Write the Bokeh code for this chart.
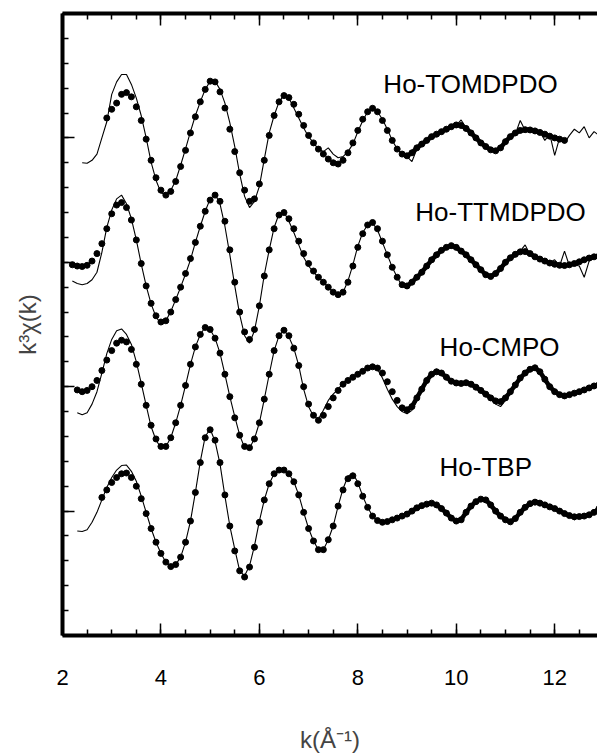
import numpy as np
from bokeh.plotting import figure
from bokeh.models import (Range1d, LinearAxis, SingleIntervalTicker,
                          ColumnDataSource, CustomJSTickFormatter)
from bokeh.core.properties import value
from bokeh.embed import file_html
from bokeh.resources import INLINE

# ---------------- data ----------------
names = ["Ho-TOMDPDO", "Ho-TTMDPDO", "Ho-CMPO", "Ho-TBP"]
offsets = [20, 15, 10, 5]          # vertical offset of each spectrum
step = 0.1
k0_exp = [2.4, 2.2, 2.3, 2.3]       # first k of each experimental trace
k0_fit = [2.9, 2.2, 2.3, 2.8]       # first k of each fit trace
k_dense = 8.9                       # above this k the fit points merge into a band

exp1 = [-1.0, -1.02, -0.9, -0.65, 0.0, 0.65,
        1.75, 2.25, 2.55, 2.55, 2.15, 1.6, 0.89, 0.0, -0.97, -1.7,
        -2.2, -2.3, -2.1, -1.72, -1.1, -0.44, 0.25, 0.9, 1.45, 1.95,
        2.28, 2.28, 1.95, 1.4, 0.6, -0.35, -1.45, -2.35, -2.8, -2.55,
        -1.95, -0.85, 0.2, 0.9, 1.45, 1.72, 1.6, 1.2, 0.8, 0.4,
        0.05, -0.2, -0.45, -0.55, -0.4, -0.65, -0.8, -0.75, -0.55, -0.25,
        0.25, 0.69, 1.05, 1.19, 1.05, 0.75, 0.35, -0.1, -0.45, -0.65,
        -0.75, -0.95, -0.45, -0.3, -0.1, 0.05, 0.2, 0.3, 0.35, 0.4,
        0.5, 0.72, 0.4, 0.25, 0.05, -0.2, -0.35, -0.45, -0.55, -0.35,
        -0.2, 0.0, 0.15, 0.7, 0.3, 0.35, 0.2, 0.25, -0.1, 0.15,
        -0.7, 0.0, -0.2, 0.1, 0.35, 0.2, 0.45, 0.0, 0.25, 0.1]
fit1 = [0.8,
        1.15, 1.4, 1.75, 1.82, 1.65, 1.25, 0.7, -0.05, -0.9, -1.6,
        -2.1, -2.3, -2.15, -1.75, -1.15, -0.5, 0.2, 0.85, 1.45, 1.95,
        2.28, 2.25, 1.85, 1.2, 0.35, -0.55, -1.4, -2.1, -2.55, -2.45,
        -1.85, -0.9, 0.1, 0.9, 1.45, 1.7, 1.62, 1.35, 0.95, 0.5,
        0.1, -0.2, -0.45, -0.65, -0.85, -1.0, -1.05, -0.9, -0.6, -0.2,
        0.3, 0.75, 1.05, 1.19, 1.05, 0.7, 0.3, -0.1, -0.45, -0.65,
        -0.72, -0.6, -0.4, -0.25, -0.1, 0.05, 0.15, 0.25, 0.35, 0.45,
        0.52, 0.5, 0.38, 0.2, 0.0, -0.2, -0.35, -0.48, -0.52, -0.4,
        -0.15, 0.05, 0.2, 0.3, 0.33, 0.32, 0.28, 0.22, 0.15, 0.07,
        0.0, -0.05, -0.1]

exp2 = [-0.75, -0.85, -0.9, -0.85, -0.7, -0.4, 0.4, 1.4,
        2.1, 2.55, 2.7, 2.35, 1.75, 0.9, -0.07, -0.95, -1.67, -2.2,
        -2.47, -2.35, -1.98, -1.5, -1.0, -0.47, 0.1, 0.8, 1.45, 2.05,
        2.55, 2.74, 2.35, 1.45, 0.3, -0.95, -2.1, -2.95, -3.25, -2.75,
        -1.75, -0.5, 0.5, 1.4, 1.95, 2.02, 1.65, 1.2, 0.7, 0.2,
        -0.15, -0.4, -0.6, -0.8, -1.0, -1.2, -1.33, -1.2, -0.75, -0.1,
        0.65, 1.2, 1.5, 1.58, 1.3, 0.8, 0.3, -0.2, -0.6, -0.95,
        -1.05, -0.8, -0.65, -0.4, -0.15, 0.1, 0.3, 0.5, 0.6, 0.72,
        0.6, 0.45, 0.3, 0.1, -0.1, -0.3, -0.5, -0.57, -0.45, -0.25,
        0.0, 0.15, 0.3, 0.45, 0.7, 0.3, 0.2, 0.13, 0.05, 0.0,
        0.1, -0.15, 0.45, -0.15, -0.1, -0.15, -0.6, 0.05, 0.15, 0.25]
fit2 = [-0.1, -0.15, -0.17, -0.12, 0.05, 0.35, 0.75, 1.35,
        1.95, 2.3, 2.4, 2.2, 1.7, 0.9, -0.05, -0.95, -1.65, -2.15,
        -2.4, -2.35, -2.0, -1.5, -1.0, -0.45, 0.15, 0.8, 1.45, 2.05,
        2.5, 2.7, 2.45, 1.65, 0.5, -0.8, -2.0, -2.8, -3.1, -2.7,
        -1.75, -0.55, 0.5, 1.35, 1.9, 2.0, 1.75, 1.35, 0.85, 0.35,
        -0.05, -0.35, -0.6, -0.8, -1.0, -1.2, -1.3, -1.2, -0.8, -0.15,
        0.6, 1.15, 1.5, 1.6, 1.35, 0.85, 0.3, -0.2, -0.6, -0.9,
        -0.95, -0.8, -0.6, -0.4, -0.15, 0.1, 0.3, 0.48, 0.6, 0.67,
        0.6, 0.45, 0.3, 0.1, -0.1, -0.3, -0.5, -0.57, -0.45, -0.25,
        0.0, 0.18, 0.32, 0.42, 0.43, 0.35, 0.22, 0.13, 0.05, -0.03,
        -0.08, -0.12, -0.13, -0.1, -0.05, 0.02, 0.1, 0.17, 0.22, 0.25]

exp3 = [-1.05, -1.13, -1.05, -0.7, -0.2, 0.55, 1.33,
        1.9, 2.25, 2.32, 2.1, 1.7, 1.0, 0.13, -0.75, -1.6, -2.15,
        -2.45, -2.4, -2.05, -1.45, -0.75, 0.05, 0.9, 1.6, 2.1, 2.4,
        2.3, 1.95, 1.35, 0.5, -0.4, -1.2, -1.95, -2.45, -2.45, -2.1,
        -1.45, -0.5, 0.5, 1.45, 2.05, 2.27, 2.0, 1.55, 0.85, -0.1,
        -0.8, -1.2, -1.3, -0.95, -0.55, -0.3, -0.1, 0.15, 0.3, 0.4,
        0.5, 0.6, 0.72, 0.78, 0.7, 0.35, -0.1, -0.5, -0.8, -1.0,
        -1.09, -0.95, -0.55, -0.15, 0.25, 0.55, 0.7, 0.62, 0.4, 0.22,
        0.15, 0.12, 0.2, 0.1, -0.05, -0.2, -0.35, -0.5, -0.7, -0.8,
        -0.55, -0.25, 0.05, 0.35, 0.55, 0.72, 0.76, 0.6, 0.3, 0.0,
        -0.2, -0.33, -0.37, -0.3, -0.25, -0.2, -0.1, -0.05, 0.05, 0.1]
fit3 = [-0.13, -0.2, -0.15, 0.0, 0.25, 0.65, 1.07,
        1.45, 1.75, 1.87, 1.8, 1.5, 0.9, 0.1, -0.75, -1.55, -2.1,
        -2.4, -2.4, -2.05, -1.45, -0.75, 0.05, 0.9, 1.6, 2.1, 2.38,
        2.3, 1.95, 1.35, 0.5, -0.4, -1.25, -1.95, -2.4, -2.45, -2.1,
        -1.45, -0.5, 0.5, 1.45, 2.05, 2.27, 2.05, 1.55, 0.85, 0.0,
        -0.7, -1.15, -1.35, -1.15, -0.8, -0.45, -0.15, 0.1, 0.25, 0.38,
        0.5, 0.62, 0.75, 0.8, 0.75, 0.55, 0.2, -0.2, -0.55, -0.85,
        -0.93, -0.8, -0.45, -0.1, 0.25, 0.5, 0.6, 0.55, 0.38, 0.22,
        0.15, 0.13, 0.16, 0.1, -0.02, -0.15, -0.3, -0.45, -0.57, -0.6,
        -0.45, -0.2, 0.07, 0.35, 0.55, 0.7, 0.76, 0.6, 0.3, 0.0,
        -0.2, -0.32, -0.37, -0.32, -0.26, -0.2, -0.13, -0.05, 0.03, 0.08]

exp4 = [-0.8, -0.82, -0.75, -0.45, -0.05, 0.45, 0.95,
        1.35, 1.65, 1.83, 1.85, 1.6, 1.2, 0.6, -0.05, -0.7, -1.25,
        -1.7, -2.05, -2.23, -2.15, -1.85, -1.25, -0.4, 0.75, 2.0, 3.0,
        3.3, 2.8, 1.9, 0.6, -0.6, -1.53, -2.4, -2.6, -2.2, -1.4,
        -0.4, 0.45, 1.1, 1.5, 1.65, 1.65, 1.5, 1.18, 0.65, -0.05,
        -0.7, -1.2, -1.55, -1.55, -1.15, -0.6, 0.2, 0.9, 1.4, 1.52,
        1.15, 0.6, 0.15, -0.2, -0.38, -0.45, -0.42, -0.35, -0.28, -0.2,
        -0.12, 0.0, 0.13, 0.22, 0.28, 0.33, 0.25, 0.1, -0.1, -0.3,
        -0.4, -0.35, -0.05, 0.2, 0.38, 0.48, 0.45, 0.25, 0.0, -0.2,
        -0.35, -0.44, -0.3, -0.05, 0.15, 0.3, 0.45, 0.4, 0.28, 0.18,
        0.1, 0.0, -0.1, -0.2, -0.35, -0.2, -0.2, -0.18, 0.0, 0.1]
fit4 = [0.55, 0.85,
        1.15, 1.35, 1.5, 1.53, 1.35, 1.0, 0.5, -0.1, -0.7, -1.25,
        -1.7, -2.05, -2.23, -2.15, -1.85, -1.25, -0.4, 0.75, 1.95, 2.95,
        3.27, 2.85, 1.95, 0.65, -0.6, -1.6, -2.4, -2.65, -2.25, -1.45,
        -0.45, 0.45, 1.1, 1.5, 1.65, 1.65, 1.5, 1.18, 0.65, -0.05,
        -0.7, -1.2, -1.55, -1.55, -1.15, -0.6, 0.2, 0.85, 1.3, 1.42,
        1.1, 0.6, 0.15, -0.2, -0.38, -0.45, -0.42, -0.35, -0.28, -0.2,
        -0.12, 0.0, 0.13, 0.22, 0.28, 0.32, 0.25, 0.1, -0.08, -0.28,
        -0.4, -0.35, -0.05, 0.2, 0.38, 0.48, 0.45, 0.25, 0.0, -0.2,
        -0.35, -0.43, -0.3, -0.05, 0.15, 0.3, 0.36, 0.32, 0.25, 0.17,
        0.1, 0.0, -0.1, -0.18, -0.23, -0.22, -0.2, -0.15, -0.05, 0.1]

exp_sets = [exp1, exp2, exp3, exp4]
fit_sets = [fit1, fit2, fit3, fit4]

label_k = [10.29, 10.90, 10.88, 10.60]
label_y = [22.16, 17.03, 11.58, 6.77]

x_ticks_major = 2
y_ticks_major = 5

FONT = "Liberation Sans"

# ---------------- figure ----------------
p = figure(width=597, height=755, output_backend="svg", toolbar_location=None,
           x_range=Range1d(2.0, 12.87), y_range=Range1d(0, 25),
           min_border_left=62, min_border_right=0, min_border_top=13,
           min_border_bottom=118)
p.outline_line_color = None
p.grid.visible = False
p.background_fill_color = "white"
p.border_fill_color = "white"

for i in range(4):
    ke = np.round(k0_exp[i] + step * np.arange(len(exp_sets[i])), 2)
    kf = np.round(k0_fit[i] + step * np.arange(len(fit_sets[i])), 2)
    ye = np.array(exp_sets[i]) + offsets[i]
    yf = np.array(fit_sets[i]) + offsets[i]
    p.line(ke, ye, line_color="black", line_width=1.1)
    dense = kf >= k_dense - 1e-9
    p.line(kf[dense], yf[dense], line_color="black", line_width=4.5,
           line_join="round", line_cap="round")
    p.scatter(kf, yf, marker="circle", size=6, fill_color="black",
              line_color="black")

src = ColumnDataSource(dict(x=label_k, y=label_y, t=names))
p.text(x="x", y="y", text="t", source=src, text_font=value(FONT),
       text_font_size="26px", text_align="center", text_baseline="middle",
       text_color="black")

blank = CustomJSTickFormatter(code="return ''")

def style_axis(ax, show_labels):
    ax.axis_line_width = 4
    ax.axis_line_color = "black"
    ax.major_tick_in = 12
    ax.major_tick_out = 0
    ax.minor_tick_in = 6
    ax.minor_tick_out = 0
    ax.major_tick_line_width = 1.5
    ax.minor_tick_line_width = 1.5
    ax.major_tick_line_color = "black"
    ax.minor_tick_line_color = "black"
    if show_labels:
        ax.major_label_text_font = FONT
        ax.major_label_text_font_size = "22px"
        ax.major_label_text_color = "black"
    else:
        ax.formatter = blank
        ax.major_label_standoff = 0

# bottom axis
xa = p.xaxis[0]
xa.ticker = SingleIntervalTicker(interval=x_ticks_major, num_minor_ticks=4)
style_axis(xa, True)
xa.major_label_standoff = 34
xa.axis_label = "k(Å\u207b\u00b9)"
xa.axis_label_text_font = FONT
xa.axis_label_text_font_size = "24px"
xa.axis_label_text_font_style = "normal"
xa.axis_label_standoff = 38

# left axis
ya = p.yaxis[0]
ya.ticker = SingleIntervalTicker(interval=y_ticks_major, num_minor_ticks=5)
style_axis(ya, False)
ya.axis_label = "k\u00b3\u03c7(k)"
ya.axis_label_text_font = FONT
ya.axis_label_text_font_size = "24px"
ya.axis_label_text_font_style = "normal"
ya.axis_label_standoff = 22

# top axis
ta = LinearAxis(ticker=SingleIntervalTicker(interval=x_ticks_major, num_minor_ticks=4))
style_axis(ta, False)
p.add_layout(ta, "above")

open("out.html", "w").write(file_html(p, INLINE))
